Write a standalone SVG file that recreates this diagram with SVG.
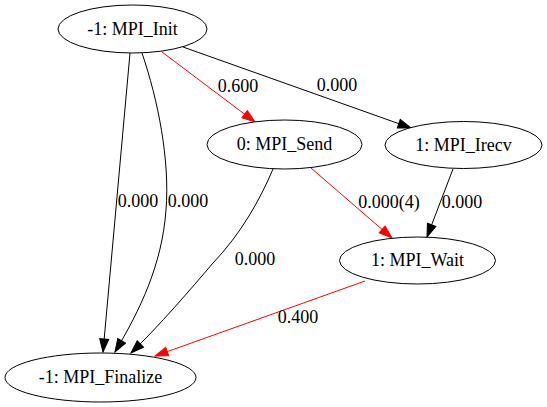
<svg xmlns="http://www.w3.org/2000/svg" width="547" height="407" viewBox="0 0 547 407">
<style>
text{font-family:"Liberation Serif","Times New Roman",serif;font-size:18px;fill:#000;text-anchor:middle}
.node ellipse{fill:#fff;stroke:#000;stroke-width:1}
.e{fill:none;stroke:#000;stroke-width:1}
.r{stroke:#f00}
</style>
<defs>
<marker id="ab" viewBox="-1 -1 15 11" markerWidth="15" markerHeight="11" refX="13" refY="4.5" orient="auto" markerUnits="userSpaceOnUse"><path d="M0,0L13,4.5L0,9z" fill="#000" stroke="#000"/></marker>
<marker id="ar" viewBox="-1 -1 15 11" markerWidth="15" markerHeight="11" refX="13" refY="4.5" orient="auto" markerUnits="userSpaceOnUse"><path d="M0,0L13,4.5L0,9z" fill="#f00" stroke="#f00"/></marker>
</defs>
<rect width="547" height="407" fill="#fff"/>
<g id="connectors">
<path class="e" d="M130,53L103,352" marker-end="url(#ab)"/>
<path class="e" d="M142,53C158,100 170,160 166,210C162,265 140,310 115,352" marker-end="url(#ab)"/>
<path class="e r" d="M162,52L255,122" marker-end="url(#ar)"/>
<path class="e" d="M183,47L411,128" marker-end="url(#ab)"/>
<path class="e" d="M273,169C260,200 240,235 213,263C190,290 160,325 131,353" marker-end="url(#ab)"/>
<path class="e r" d="M311,168L392,238" marker-end="url(#ar)"/>
<path class="e" d="M453,169L427,237" marker-end="url(#ab)"/>
<path class="e r" d="M365,281L155,356" marker-end="url(#ar)"/>
<text x="138" y="207">0.000</text>
<text x="188" y="207">0.000</text>
<text x="238" y="92">0.600</text>
<text x="337" y="91">0.000</text>
<text x="255" y="265">0.000</text>
<text x="389" y="208">0.000(4)</text>
<text x="462" y="208">0.000</text>
<text x="298" y="323">0.400</text>
</g>
<g id="n_init" class="node"><ellipse cx="132.5" cy="29" rx="74.5" ry="24"/><text x="132.5" y="34.5">-1: MPI_Init</text></g>
<g id="n_send" class="node"><ellipse cx="284.5" cy="144.5" rx="77.5" ry="24.5"/><text x="284.5" y="150">0: MPI_Send</text></g>
<g id="n_irecv" class="node"><ellipse cx="463.5" cy="145" rx="78.5" ry="23.5"/><text x="463.5" y="150.5">1: MPI_Irecv</text></g>
<g id="n_wait" class="node"><ellipse cx="417.5" cy="260.5" rx="78" ry="23.5"/><text x="417.5" y="266">1: MPI_Wait</text></g>
<g id="n_finalize" class="node"><ellipse cx="100.5" cy="377.5" rx="95.5" ry="24.5"/><text x="100.5" y="383">-1: MPI_Finalize</text></g>
</svg>
